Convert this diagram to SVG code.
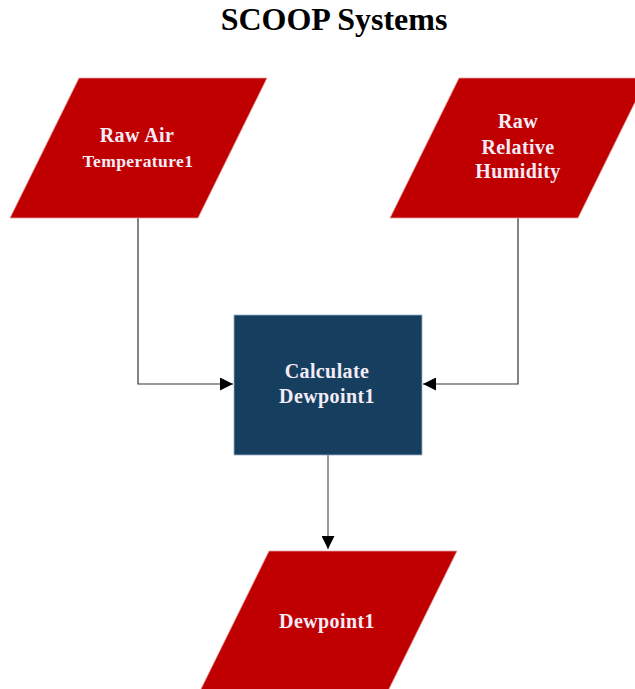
<svg xmlns="http://www.w3.org/2000/svg" width="635" height="689" viewBox="0 0 635 689">
<style>
.io{fill:#c00000;stroke:#e8a0a0;stroke-width:0.8}
.proc{fill:#163f5f;stroke:#9ab0c4;stroke-width:0.8}
.lbl{font-family:"Liberation Serif","Times New Roman",serif;font-weight:bold;fill:#f3ecf7;text-anchor:middle;letter-spacing:0.4px}
.title{font-family:"Liberation Serif","Times New Roman",serif;font-weight:bold;fill:#000;text-anchor:middle;font-size:32px}
.conn{fill:none;stroke:#333;stroke-width:1.2}
</style>
<defs>
<marker id="arr" viewBox="0 0 10 10" refX="10" refY="5" markerWidth="13" markerHeight="13" markerUnits="userSpaceOnUse" orient="auto">
<path d="M0,0 L10,5 L0,10 Z" fill="#000"/>
</marker>
</defs>
<text class="title" x="334" y="30">SCOOP Systems</text>
<g id="connectors">
<path class="conn" d="M138,218 V384 H233" marker-end="url(#arr)"/>
<path class="conn" d="M518,218 V384 H423" marker-end="url(#arr)"/>
<path class="conn" d="M328,455 V549" marker-end="url(#arr)" style="stroke:#777;stroke-width:1.5"/>
</g>
<g id="raw-air-temperature">
<polygon class="io" points="79,78 267,78 198,218 10,218"/>
<text class="lbl" x="137" y="142" font-size="20">Raw Air</text>
<text class="lbl" x="138" y="167" font-size="17.5">Temperature1</text>
</g>
<g id="raw-relative-humidity">
<polygon class="io" points="459,78 647,78 578,218 390,218"/>
<text class="lbl" x="518" y="128" font-size="20">Raw</text>
<text class="lbl" x="518" y="154" font-size="20">Relative</text>
<text class="lbl" x="518" y="178" font-size="20">Humidity</text>
</g>
<g id="calculate-dewpoint">
<rect class="proc" x="234" y="315" width="188" height="140"/>
<text class="lbl" x="327" y="378" font-size="20">Calculate</text>
<text class="lbl" x="327" y="403" font-size="20">Dewpoint1</text>
</g>
<g id="dewpoint">
<polygon class="io" points="269,551 457,551 388,691 200,691"/>
<text class="lbl" x="327" y="628" font-size="20">Dewpoint1</text>
</g>
</svg>
